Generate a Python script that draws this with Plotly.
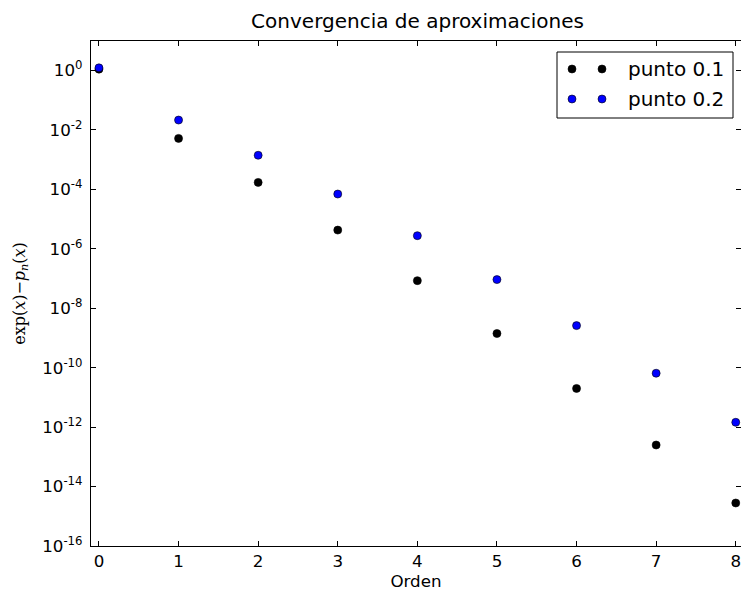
import plotly.graph_objects as go

# Error of the Taylor polynomial of exp about 0, evaluated at two points
orden = [0, 1, 2, 3, 4, 5, 6, 7, 8]
error_01 = [1.105, 5.17e-3, 1.71e-4, 4.25e-6, 8.47e-8, 1.41e-9, 2.0e-11, 2.5e-13, 2.8e-15]
error_02 = [1.221, 2.14e-2, 1.40e-3, 6.94e-5, 2.76e-6, 9.2e-8, 2.6e-9, 6.5e-11, 1.45e-12]
series_names = ["punto 0.1", "punto 0.2"]
series_colors = ["#000000", "#0000ff"]

exp_ticks = [0, -2, -4, -6, -8, -10, -12, -14, -16]
ytickvals = [10.0 ** e for e in exp_ticks]
yticktext = [f"10<sup>{e}</sup>" for e in exp_ticks]

W, H = 741, 591
L, R, T, B = 91, 0, 41, 45
FONT = "DejaVu Sans, Verdana, sans-serif"

fig = go.Figure()
for vals, name, col in zip([error_01, error_02], series_names, series_colors):
    fig.add_trace(go.Scatter(
        x=orden, y=vals, mode="markers", name=name, showlegend=False,
        marker=dict(size=8, color=col, line=dict(color="black", width=0.6)),
        cliponaxis=False,
    ))

# invisible trace that carries the right-hand tick marks
fig.add_trace(go.Scatter(x=[orden[0]], y=[error_01[0]], yaxis="y2",
                         mode="markers", marker=dict(opacity=0),
                         showlegend=False, hoverinfo="skip"))

axis_common = dict(ticks="inside", ticklen=5, tickwidth=1, tickcolor="black",
                   showgrid=False, zeroline=False,
                   tickfont=dict(family=FONT, size=16.7, color="black"))

fig.update_layout(
    width=W, height=H,
    margin=dict(l=L, r=R, t=T, b=B),
    paper_bgcolor="white", plot_bgcolor="white",
    title=dict(text="Convergencia de aproximaciones", x=(L + 744) / 2 / W,
               xanchor="center", y=1 - 21 / H, yanchor="middle",
               font=dict(family=FONT, size=20, color="black")),
    xaxis=dict(range=[-0.1, 8.066], tickvals=orden, showline=True,
               linecolor="black", linewidth=1.3, mirror="ticks",
               ticklabeloverflow="allow",
               title=dict(text="Orden", standoff=4,
                          font=dict(family=FONT, size=16.7, color="black")),
               **axis_common),
    yaxis=dict(type="log", range=[-16, 0.99], tickvals=ytickvals,
               ticktext=yticktext, showline=True, linecolor="black",
               linewidth=1.3, mirror=False, ticklabelstandoff=4,
               title=dict(text="exp(<i>x</i>)\u2212<i>p<sub>n</sub></i>(<i>x</i>)",
                          standoff=12,
                          font=dict(family="DejaVu Serif, serif", size=16,
                                    color="black")),
               **axis_common),
    yaxis2=dict(type="log", overlaying="y", side="right", matches="y",
                tickvals=ytickvals, showticklabels=False, showline=False,
                ticks="inside", ticklen=5, tickwidth=1, tickcolor="black",
                showgrid=False, zeroline=False),
    showlegend=False,
)

# Legend box with two sample markers per entry
def px_x(px):
    return (px - L) / (W - L - R)

def px_y(py):
    return (H - B - py) / (H - T - B)

fig.add_shape(type="rect", xref="paper", yref="paper",
              x0=px_x(557), x1=px_x(733), y0=px_y(118), y1=px_y(52),
              line=dict(color="black", width=1), fillcolor="white")
for row_y, name, col in zip([69, 99], series_names, series_colors):
    for dot_x in [572, 602]:
        fig.add_shape(type="circle", xref="paper", yref="paper",
                      xsizemode="pixel", ysizemode="pixel",
                      xanchor=px_x(dot_x), yanchor=px_y(row_y),
                      x0=-4, x1=4, y0=-4, y1=4,
                      fillcolor=col, line=dict(color="black", width=0.6))
    fig.add_annotation(xref="paper", yref="paper", x=px_x(626), y=px_y(row_y),
                       xanchor="left", yanchor="middle", showarrow=False,
                       text=name, font=dict(family=FONT, size=20, color="black"))

fig.write_html("out.html")
